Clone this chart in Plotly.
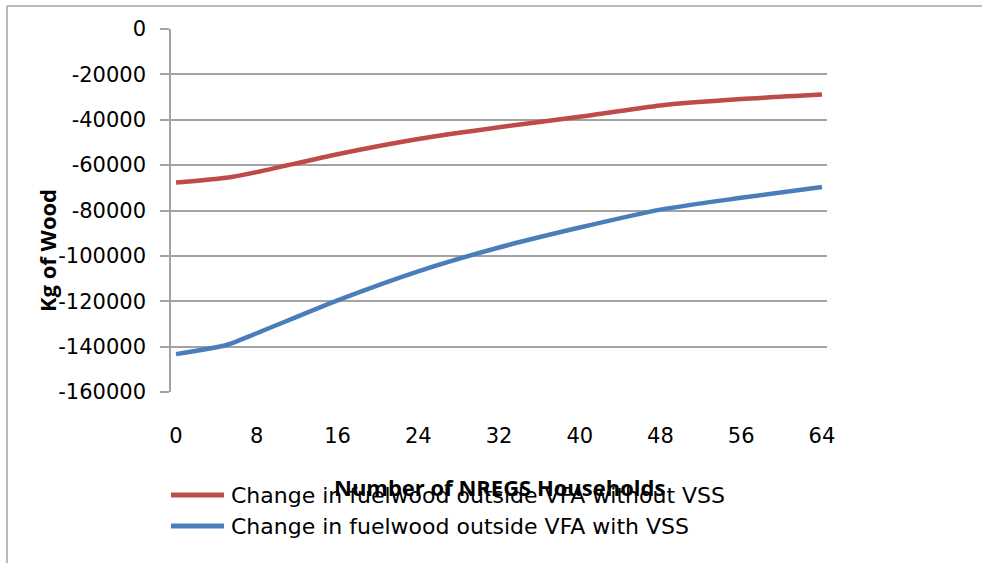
import plotly.graph_objects as go

# Number of NREGS households (category positions)
households = [0, 5, 8, 16, 24, 32, 40, 48, 56, 64]

# Change in fuelwood collected outside the VFA (kg)
without_vss = [-67700, -65600, -63100, -55200, -48500, -43300, -38700, -33700, -30900, -28900]
with_vss = [-143300, -139300, -134100, -119600, -106800, -96300, -87500, -79600, -74400, -69600]

series_names = [
    "Change in fuelwood outside VFA without VSS",
    "Change in fuelwood outside VFA with VSS",
]
series_colors = ["#BE4B48", "#4A7EBB"]

x_ticks = [0, 8, 16, 24, 32, 40, 48, 56, 64]
y_ticks = [0, -20000, -40000, -60000, -80000, -100000, -120000, -140000, -160000]

FONT = "DejaVu Sans"
TITLE_FONT = "Open Sans"
GRID = "#a3a3a3"

W, H = 982, 563
L, R, T, B = 171, 155, 29, 171
PW, PH = W - L - R, H - T - B


def px_x(x):
    """Horizontal pixel -> paper coordinate."""
    return (x - L) / PW


def px_y(y):
    """Vertical pixel (from top) -> paper coordinate."""
    return 1 - (y - T) / PH


fig = go.Figure()
for name, vals, col in zip(series_names, [without_vss, with_vss], series_colors):
    fig.add_trace(go.Scatter(
        x=households, y=vals, name=name, mode="lines", showlegend=False,
        line=dict(color=col, width=4.5, shape="spline", smoothing=0.6),
    ))

# legend: line sample followed by the series name, stacked below the x-axis title
shapes = []
annotations = []
for i, (name, col) in enumerate(zip(series_names, series_colors)):
    yrow = 495 + 31 * i
    shapes.append(dict(type="line", xref="paper", yref="paper",
                       x0=px_x(171), x1=px_x(224), y0=px_y(yrow), y1=px_y(yrow),
                       line=dict(color=col, width=5)))
    annotations.append(dict(text=name, xref="paper", yref="paper",
                            x=px_x(229), y=px_y(yrow), xanchor="left", yanchor="middle",
                            showarrow=False, font=dict(family=FONT, size=22, color="black")))

annotations += [
    dict(text="<b>Number of NREGS Households</b>", xref="paper", yref="paper",
         x=0.5, y=px_y(487), xanchor="center", yanchor="middle",
         showarrow=False, font=dict(family=TITLE_FONT, size=22, color="black")),
    dict(text="<b>Kg of Wood</b>", xref="paper", yref="paper",
         x=px_x(47), y=px_y(251), xanchor="center", yanchor="middle", textangle=-90,
         showarrow=False, font=dict(family=TITLE_FONT, size=22, color="black")),
]

# outer chart frame (top and left edges in view)
shapes += [
    dict(type="line", xref="paper", yref="paper",
         x0=px_x(7), x1=1.5, y0=px_y(6), y1=px_y(6),
         line=dict(color=GRID, width=1.5)),
    dict(type="line", xref="paper", yref="paper",
         x0=px_x(7), x1=px_x(7), y0=px_y(6), y1=-1,
         line=dict(color=GRID, width=1.5)),
]

fig.update_layout(
    width=W, height=H,
    margin=dict(l=L, r=R, t=T, b=B),
    paper_bgcolor="white", plot_bgcolor="white",
    font=dict(family=FONT, size=21, color="black"),
    showlegend=False,
    xaxis=dict(
        range=[-0.5, 64.5], tickmode="array", tickvals=x_ticks,
        showgrid=False, zeroline=False, showline=False, ticks="",
        ticklabelstandoff=29,
        tickfont=dict(family=FONT, size=21),
    ),
    yaxis=dict(
        range=[-160000, 0], tickmode="array", tickvals=y_ticks,
        ticktext=[str(v) for v in y_ticks],
        showgrid=True, gridcolor=GRID, gridwidth=1.5,
        zeroline=False, showline=True, linecolor=GRID, linewidth=1.5,
        ticks="outside", ticklen=9, tickcolor=GRID, tickwidth=1.5,
        ticklabelstandoff=10,
        tickfont=dict(family=FONT, size=21),
    ),
    annotations=annotations,
    shapes=shapes,
)

fig.write_html("out.html")
